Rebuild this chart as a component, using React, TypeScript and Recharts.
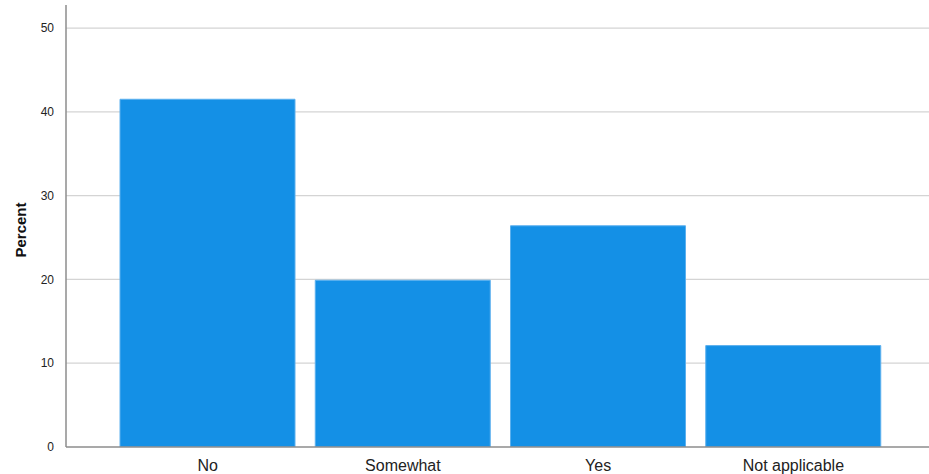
import { BarChart, Bar, XAxis, YAxis, CartesianGrid, Label } from "recharts";

const categories = ["No", "Somewhat", "Yes", "Not applicable"];
const percents = [41.5, 19.9, 26.4, 12.1];
const yTicks = [0, 10, 20, 30, 40, 50];

const data = categories.map((name, i) => ({ name, value: percents[i] }));

export default function App() {
  return (
    <div style={{ position: "absolute", left: 0, top: 0, background: "#fff" }}>
      <BarChart
        width={929}
        height={474}
        data={data}
        margin={{ top: 5, right: 0, bottom: 0, left: 0 }}
        style={{ fontFamily: "'Liberation Sans', Arial, sans-serif" }}
      >
        <CartesianGrid vertical={false} stroke="#d4d4d4" strokeWidth={1.2} horizontalValues={[10, 20, 30, 40, 50]} />
        <XAxis
          dataKey="name"
          height={27}
          padding={{ left: 44, right: 38 }}
          tickLine={false}
          axisLine={{ stroke: "#8c8c8c", strokeWidth: 1.5 }}
          tick={{ fill: "#222", fontSize: 16 }}
          tickMargin={7}
          interval={0}
        />
        <YAxis
          width={66}
          domain={[0, 52.75]}
          ticks={yTicks}
          allowDataOverflow
          tickLine={false}
          axisLine={{ stroke: "#8c8c8c", strokeWidth: 1.5 }}
          tick={{ fill: "#222", fontSize: 12 }}
          tickMargin={6}
        >
          <Label
            value="Percent"
            angle={-90}
            position="insideLeft"
            offset={21}
            dy={4}
            style={{ fontWeight: "bold", fontSize: 15, fill: "#111", textAnchor: "middle" }}
          />
        </YAxis>
        <Bar
          dataKey="value"
          fill="#1490e6"
          stroke="#5cb0ee"
          strokeWidth={1}
          barSize={175}
          isAnimationActive={false}
        />
      </BarChart>
    </div>
  );
}
